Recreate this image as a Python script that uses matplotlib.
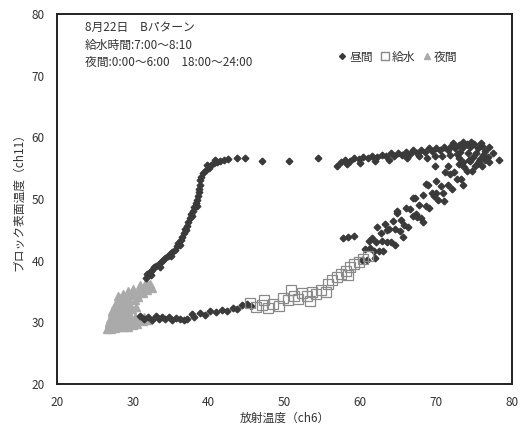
import matplotlib
matplotlib.use("Agg")
import matplotlib.pyplot as plt
from matplotlib.lines import Line2D

plt.rcParams['font.family'] = ['Noto Sans CJK JP', 'DejaVu Sans']

# ---------------- data ----------------
# 昼間 (day) - rising branch
day_x_rise = [31.7, 31.9, 32.2, 32.5, 32.8, 33.1, 33.4, 33.7, 34.0, 34.3, 34.6, 34.9, 35.2, 35.5,
              35.8, 36.0, 36.3, 36.5, 36.7, 36.9, 37.1, 37.3, 37.5, 37.7, 37.9, 38.1, 38.3, 38.5,
              38.6, 38.7, 38.7, 38.8, 38.9, 39.0, 39.3, 39.6, 40.0, 40.3, 40.7, 41.1, 41.5, 42.0,
              42.5, 32.4, 33.6, 35.0, 36.2, 37.0, 37.8, 38.4, 39.8, 40.9, 43.8, 44.8, 47.0, 50.6, 54.4]
day_y_rise = [37.2, 37.8, 38.2, 38.5, 38.9, 39.1, 39.5, 39.8, 40.1, 40.4, 40.7, 41.0, 41.4, 41.8,
              42.3, 42.8, 43.3, 43.9, 44.5, 45.1, 45.7, 46.3, 46.9, 47.5, 48.1, 48.7, 49.3, 49.9,
              50.5, 51.1, 51.7, 52.3, 53.0, 53.6, 54.2, 54.7, 55.1, 55.5, 55.8, 56.0, 56.2, 56.4,
              56.5, 37.6, 39.0, 40.7, 42.6, 44.9, 47.2, 48.9, 55.5, 56.3, 56.6, 56.6, 56.1, 56.1, 56.6]

# 昼間 - lower branch (morning)
day_x_low = [31.0, 31.5, 32.0, 32.5, 33.0, 33.4, 33.9, 34.3, 34.8, 35.2, 35.7, 36.2, 36.7, 37.2,
             37.8, 38.1, 38.8, 39.5, 40.2, 41.0, 41.7, 42.4, 43.2, 43.8, 44.4, 45.1, 45.6]
day_y_low = [31.0, 30.6, 30.8, 30.4, 31.0, 30.6, 30.9, 30.5, 30.8, 30.4, 30.7, 30.5, 30.3, 30.6,
             31.3, 30.8, 31.5, 31.2, 31.9, 31.6, 32.0, 31.9, 32.4, 32.2, 32.8, 33.0, 32.6]

# 昼間 - afternoon cloud
day_x_cloud = [60.2, 60.6, 60.9, 61.3, 61.5, 61.8, 62.0, 62.4, 62.7, 62.9, 63.3, 63.5, 63.8, 64.1,
               64.3, 64.6, 64.9, 65.2, 65.4, 65.8, 66.0, 66.3, 66.6, 66.9, 67.2, 67.5, 67.8, 68.0,
               68.3, 68.6, 68.9, 69.1, 69.4, 69.7, 70.0, 70.3, 70.6, 70.9, 71.2, 71.5, 71.8, 72.1,
               72.4, 72.7, 73.0, 73.3, 73.7, 74.0, 74.3, 74.7, 75.1, 75.6, 76.0, 76.5, 69.8, 71.5,
               73.0, 68.7, 70.0, 66.9, 64.8, 67.4, 63.5, 62.2, 61.1, 65.6, 68.2, 71.0, 73.6, 57.7,
               58.4, 59.1, 61.9, 63.0, 64.6]
day_y_cloud = [40.1, 41.9, 40.1, 42.0, 43.6, 41.5, 43.1, 41.5, 44.5, 43.2, 45.9, 43.1, 45.1, 43.1,
               46.4, 45.1, 47.8, 44.8, 46.6, 45.8, 48.5, 45.5, 48.3, 47.3, 50.2, 47.1, 49.0, 46.9,
               50.7, 48.9, 52.2, 48.6, 51.0, 50.5, 52.9, 49.8, 52.1, 51.0, 54.3, 52.2, 54.1, 51.6,
               54.3, 53.3, 55.7, 53.3, 55.2, 54.5, 56.4, 54.6, 55.4, 56.1, 55.3, 56.3, 55.4, 55.4,
               56.6, 52.5, 50.9, 50.2, 48.1, 47.6, 44.9, 45.5, 43.2, 43.9, 46.3, 49.6, 52.2, 43.7,
               43.8, 44.0, 40.4, 41.6, 42.6]

# 昼間 - upper band (peak)
day_x_band = [56.9, 57.5, 58.0, 58.6, 59.2, 59.8, 60.4, 61.0, 61.6, 62.2, 62.8, 63.4, 64.0, 64.5,
              65.0, 65.5, 66.0, 66.5, 67.0, 67.5, 68.0, 68.5, 69.0, 69.5, 70.0, 70.5, 71.0, 71.5,
              72.0, 72.5, 73.0, 73.5, 74.0, 74.5, 75.0, 75.5, 76.0, 76.5, 77.0, 73.2, 74.2, 75.2,
              76.2, 74.8, 75.8, 76.8, 78.3, 77.5, 72.8, 71.8, 70.8, 69.8, 68.8, 73.6, 74.6, 72.2,
              75.9, 67.8, 66.2, 63.8, 61.9, 60.0, 58.3, 74.4, 75.5, 77.0, 73.5]
day_y_band = [55.4, 56.0, 56.4, 56.2, 56.6, 56.5, 56.8, 56.6, 57.0, 56.8, 57.2, 57.0, 57.4, 56.9,
              57.5, 57.2, 57.7, 57.3, 57.9, 57.5, 58.0, 57.6, 58.2, 57.8, 58.3, 57.9, 58.5, 58.0,
              58.6, 58.2, 58.8, 58.4, 58.9, 58.5, 58.9, 58.3, 58.6, 57.8, 58.4, 57.6, 57.5, 57.4,
              57.2, 56.8, 56.5, 56.8, 56.3, 57.5, 57.3, 57.1, 56.9, 56.9, 56.7, 59.2, 59.3, 59.0,
              59.1, 56.9, 56.6, 56.3, 56.1, 55.9, 55.6, 56.2, 55.9, 56.0, 56.0]

# 給水 (watering)
water_x = [45.5, 46.2, 47.0, 47.8, 48.5, 49.3, 49.8, 50.5, 51.2, 51.8, 52.3, 53.0, 53.6, 54.2,
           54.8, 55.5, 55.7, 56.3, 56.9, 57.5, 58.1, 58.7, 59.2, 59.8, 60.4, 61.0, 58.4, 53.3,
           47.3, 50.8]
water_y = [33.2, 32.5, 32.8, 32.3, 33.0, 32.7, 34.0, 33.6, 34.3, 33.8, 34.8, 34.2, 35.0, 34.6,
           35.3, 35.0, 36.2, 36.8, 37.3, 37.8, 38.4, 38.9, 39.4, 39.8, 40.3, 40.8, 37.6, 33.5,
           33.6, 35.2]

# 夜間 (night)
night_x = [32.3, 32.0, 31.6, 31.2, 30.8, 30.5, 30.1, 29.7, 29.3, 29.0, 28.6, 28.3, 28.0, 27.7,
           28.9, 29.5, 30.3, 27.5, 27.9, 28.4, 27.2, 27.6, 28.2, 28.8, 29.3, 29.9, 27.0, 27.4,
           27.9, 28.5, 29.1, 29.7, 30.3, 30.9, 31.5, 26.8, 27.3, 27.8, 28.4, 29.0, 29.6, 30.2,
           26.6, 27.1, 27.6, 28.2, 28.8, 29.4, 30.0, 30.6, 28.0, 28.7, 29.4, 30.0, 31.0, 31.8,
           26.9, 27.5, 32.0, 31.3, 31.9, 30.7, 29.0, 28.1, 27.3, 32.5, 31.4, 30.4, 29.2]
night_y = [36.2, 35.8, 35.6, 35.3, 35.0, 34.6, 34.7, 34.4, 34.0, 33.8, 33.5, 33.9, 33.2, 32.8,
           32.6, 33.0, 33.6, 32.3, 31.8, 32.1, 31.5, 31.0, 31.2, 31.4, 31.8, 32.2, 30.6, 30.2,
           30.5, 30.7, 30.9, 30.6, 30.9, 30.7, 30.8, 29.7, 29.5, 29.8, 29.9, 30.0, 29.8, 30.1,
           29.0, 28.9, 29.1, 29.2, 29.3, 29.2, 29.5, 29.7, 34.3, 34.6, 35.1, 35.4, 36.0, 36.6,
           30.1, 30.8, 30.4, 30.2, 35.2, 34.1, 32.9, 32.7, 31.9, 35.5, 34.8, 32.5, 31.3]

x_ticks = [20, 30, 40, 50, 60, 70, 80]
y_ticks = [20, 30, 40, 50, 60, 70, 80]

title_lines = ["8月22日　Bパターン", "給水時間:7:00～8:10", "夜間:0:00～6:00　18:00～24:00"]
legend_labels = ["昼間", "給水", "夜間"]
x_label = "放射温度（ch6）"
y_label = "ブロック表面温度（ch11）"

# ---------------- plot ----------------
W, H = 521, 430
fig = plt.figure(figsize=(W / 100, H / 100), dpi=100)
ax = fig.add_axes([57 / W, 1 - 384 / H, (512 - 57) / W, (384 - 14) / H])

day_color = '#3a3a3a'
night_color = '#aaaaaa'
water_color = '#8a8a8a'

ax.plot(night_x, night_y, linestyle='none', marker='^', markersize=6,
        color=night_color, markeredgecolor=night_color)
for xs, ys in [(day_x_rise, day_y_rise), (day_x_low, day_y_low),
               (day_x_cloud, day_y_cloud), (day_x_band, day_y_band)]:
    ax.plot(xs, ys, linestyle='none', marker='D', markersize=3.4,
            color=day_color, markeredgecolor=day_color)
ax.plot(water_x, water_y, linestyle='none', marker='s', markersize=7.5,
        markerfacecolor='none', markeredgecolor=water_color, markeredgewidth=0.9)

ax.set_xlim(20, 80)
ax.set_ylim(20, 80)
ax.set_xticks(x_ticks)
ax.set_yticks(y_ticks)
ax.tick_params(length=0, labelsize=8.5, colors='#333333', pad=9)
for s in ax.spines.values():
    s.set_linewidth(1.4)
    s.set_color('#222222')

ax.set_xlabel(x_label, fontsize=8.5, color='#333333', labelpad=2)
ax.set_ylabel(y_label, fontsize=8.5, color='#333333', labelpad=4)

fig.text(85 / W, 1 - 21 / H, "\n".join(title_lines), fontsize=8.5, color='#333333',
         va='top', ha='left', linespacing=1.45)

handles = [
    Line2D([], [], linestyle='none', marker='D', markersize=3, color=day_color),
    Line2D([], [], linestyle='none', marker='s', markersize=6, markerfacecolor='none',
           markeredgecolor=water_color),
    Line2D([], [], linestyle='none', marker='^', markersize=4, color=night_color),
]
ax.legend(handles, legend_labels, ncol=3, frameon=False, fontsize=8.5,
          loc='center', bbox_to_anchor=((397 - 57) / 455, (384 - 57) / 370),
          handletextpad=0.1, columnspacing=0.5, handlelength=1.0,
          labelcolor='#333333')

fig.savefig("out.png", dpi=100)
